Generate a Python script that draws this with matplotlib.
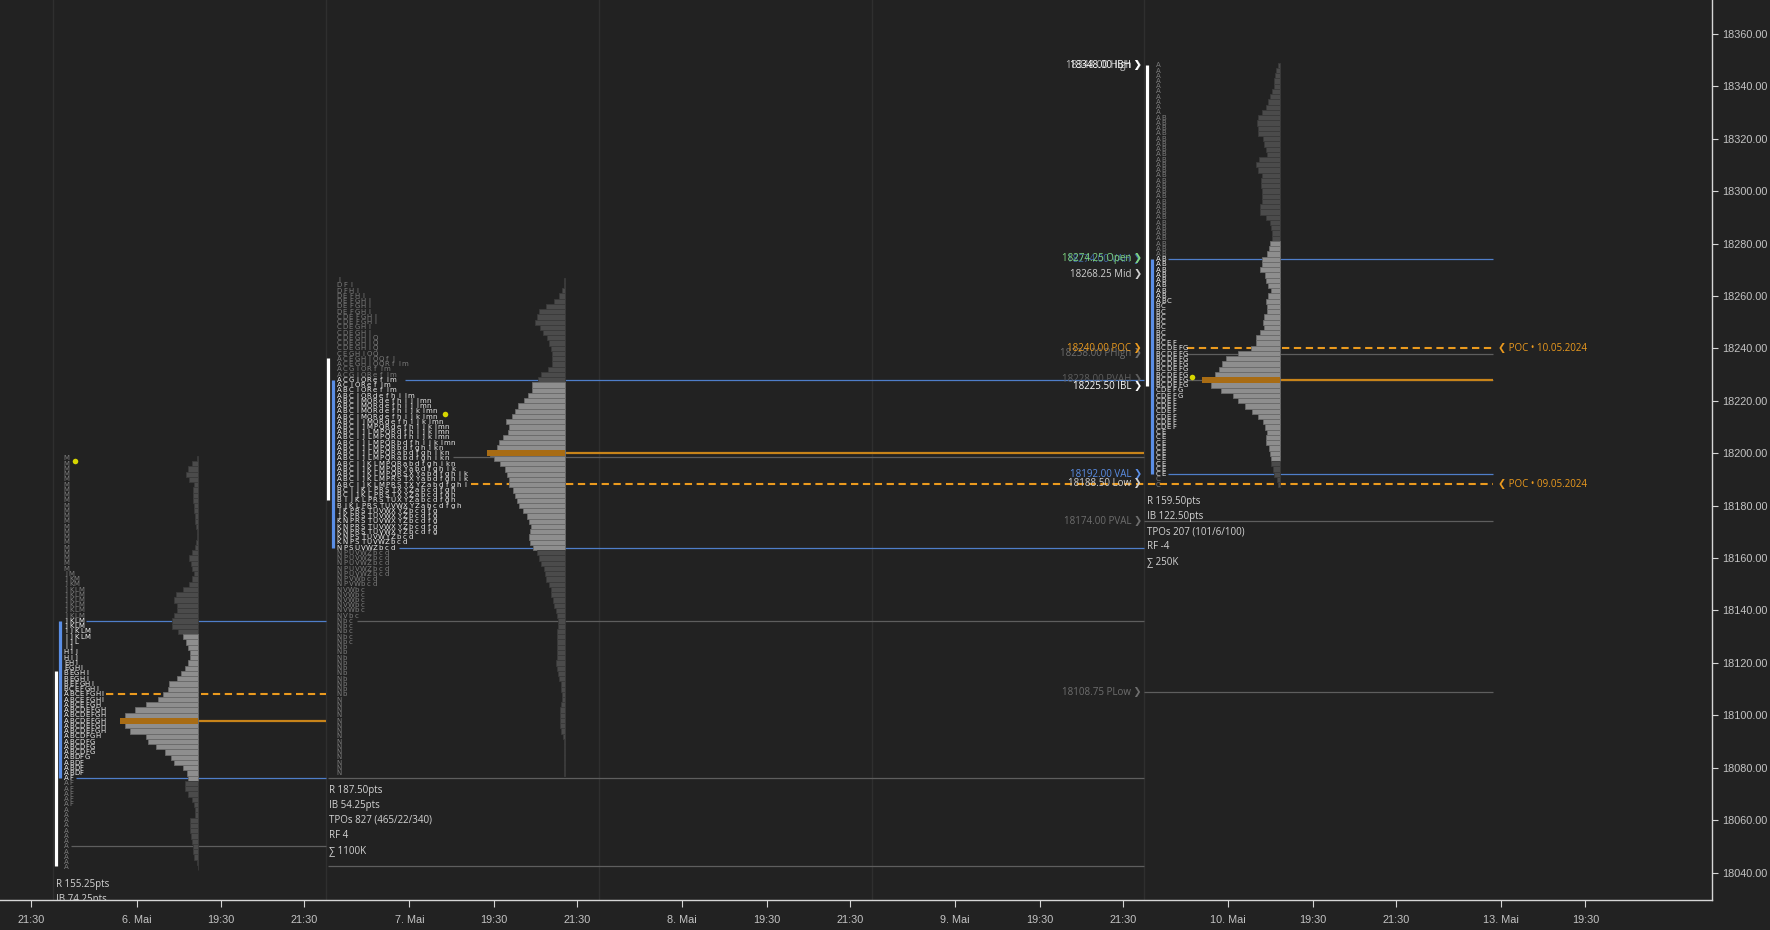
import matplotlib
matplotlib.use('Agg')
import matplotlib.pyplot as plt
import numpy as np

plt.rcParams['font.family'] = ['Open Sans', 'DejaVu Sans']

BG = '#222222'
TXT = '#d4d4d4'
BLUE_LINE = '#4f7ec9'
BLUE_BAR = '#5a8ee6'
GRAY_LINE = '#5e5e5e'
ORANGE = '#c8841a'
ORANGE_DASH = '#eb9a1e'
POC_BAR = '#a86c14'
HIST_DARK = '#4b4b4b'
HIST_LIGHT = '#8e8e8e'
LET_BRIGHT = '#ececec'
LET_DIM = '#7c7c7c'

# ---------------- data ----------------
ROW = 2.0  # price per TPO row

# session 0 : 6. Mai
S0_HIGH = 18198
S0_TPO = [("M", 22), ("J M", 1), ("J K M", 2), ("J K L M", 8), ("I J K L M", 2),
          ("I J L", 1), ("I J", 1), ("H I J", 2), ("E H I", 1), ("E G H I", 1),
          ("B E G H I", 2), ("B E F G H I", 1), ("B C E F G H I", 1),
          ("A B C E F G H I", 2), ("A B C E F G H", 1), ("A B C D E F G H", 5),
          ("A B C D F G H", 1), ("A B C D F G", 3), ("A B D F G", 1), ("A B D F", 3),
          ("A F", 6), ("A", 12)]
S0_VOL = [3, 20, 30, 38, 28, 13, 17, 15, 17, 13, 13, 11, 9, 7, 4, 4, 7, 11, 19, 28,
          23, 19, 13, 20, 29, 45, 67, 72, 65, 65, 73, 80, 80, 61,
          47, 37, 30, 24, 25, 31, 39, 52, 65, 87, 92, 107, 120, 157, 191, 219,
          225, 220, 205, 157, 152, 127, 100, 81, 72, 45, 35, 31,
          39, 39, 31, 19, 13, 11, 11, 25, 26, 24, 22, 19, 17, 15, 13, 5, 2]
S0_VA = (18076, 18136)
S0_HIST_VA = (18076, 18130)
S0_IB = (18042.5, 18116.75)
S0_DOT = 18197
S0_STATS = ["R 155.25pts", "IB 74.25pts"]

# session 1 : 7. Mai
S1_HIGH = 18266
S1_TPO = [("I", 1), ("D F I", 1), ("D F H I", 1), ("D E F H I", 1), ("D E F G H I", 3),
          ("C D E F G H I", 2), ("C D E G H I", 2), ("C D E G H I Q", 3),
          ("C E G H I O Q", 1), ("A C E G H I O Q f l", 1), ("A C E G H I O Q R f l m", 1),
          ("A C G I O R f l m", 1), ("A C G I O R e f l m", 2), ("A C I O R e f l m", 1),
          ("A B C I O R e f l m", 1), ("A B C I O R d e f h i l m", 1),
          ("A B C I M O R d e f h i j l m n", 2), ("A B C I M O R d e f h i j k l m n", 2),
          ("A B C I J M O R d e f h i j k l m n", 1),
          ("A B C I J M P Q R d e f h i j k l m n", 1),
          ("A B C I J L M P Q R d f h i j k l m n", 2),
          ("A B C I J L M P Q R b d f h i j k l m n", 1),
          ("A B C I J L M P Q R b d f g h i k n", 1),
          ("A B C I J L M P Q R a b d f g h i k n", 2),
          ("A B C I J K L M P Q R a b d f g h i k n", 1),
          ("A B C I J K L M P Q R Y a b d f g h i k", 1),
          ("A B C I J K L M P Q R S X Y a b d f g h i k", 1),
          ("A B C I J K L M P R S T X Y a b d f g h i k", 1),
          ("A B C I J K L M P R S T X Y Z a b d f g h l", 1),
          ("B C I J K L P R S T X Y Z a b c d f g h", 2),
          ("B I J K L P R S T U X Y Z a b c d f g h", 1),
          ("B J K L P R S T U V W X Y Z a b c d f g h", 1),
          ("J K P R S T U V W X Y Z b c d f g", 2),
          ("K N P R S T U V W X Y Z b c d f g", 3),
          ("K N P S T U V W Y Z b c d", 1), ("K N P S T U V W Z b c d", 1),
          ("N P S U V W Z b c d", 1), ("N P U V W Z b c d", 5), ("N P V W b c d", 2),
          ("N V W b c", 5), ("N V b c", 1), ("N b c", 5), ("N b", 10), ("N", 15)]
S1_VOL = [2, 2, 8, 19, 32, 58, 79, 83, 89, 75, 65, 55, 47, 42, 40, 40, 40, 50, 71, 80,
          99, 99, 111, 123, 141, 151, 159, 177, 168, 172, 187, 197, 205, 225, 213, 195,
          179, 173, 167, 167, 157, 149, 143, 137, 127, 113, 107, 103, 105, 107, 105, 97,
          84, 79, 71, 63, 59, 57, 47, 41, 41, 35, 32, 28, 23, 21, 21, 23, 25, 23, 23, 23,
          25, 27, 25, 21, 17, 13, 11, 9, 9, 13, 15, 15, 15, 15, 13, 7, 3,
          2, 2, 2, 2, 2, 2]
S1_VA = (18164, 18228)
S1_HIST_VA = (18164, 18226)
S1_IB = (18182.0, 18236.25)
S1_DOT = 18215
S1_STATS = ["R 187.50pts", "IB 54.25pts", "TPOs 827 (465/22/340)", "RF 4", "\u2211 1100K"]

# session 4 : 10. Mai
S4_HIGH = 18348
S4_TPO = [("A", 10), ("A B", 35), ("A B C", 1), ("B C", 7), ("B C E F", 1),
          ("B C D E F G", 8), ("C D E F G", 2), ("C D E F", 6), ("C E", 9), ("C", 2)]
S4_VOL = [6, 10, 14, 16, 18, 24, 28, 34, 40, 54, 66, 68, 66, 66, 50, 48, 40, 38, 63, 70,
          66, 52, 56, 56, 54, 54, 54, 58, 58, 40, 30, 26, 22, 22,
          28, 32, 38, 52, 52, 60, 44, 40, 34, 26, 34, 40, 38, 38, 46, 50, 46, 58, 70,
          72, 86, 123, 161, 171, 180, 193, 223, 204, 174, 139, 123, 102, 84, 66, 50, 43,
          38, 42, 40, 33, 29, 25, 25, 20, 18, 9, 5]
S4_VA = (18192, 18274)
S4_HIST_VA = (18198, 18280)
S4_IB = (18225.5, 18348.0)
S4_DOT = 18229
S4_STATS = ["R 159.50pts", "IB 122.50pts", "TPOs 207 (101/6/100)", "RF -4", "\u2211 250K"]

# reference levels: (price, start, end, kind)  start/end on session axis
LEVELS = [
    (18136, 0.121, 1.0, 'va'), (18076, 0.084, 1.0, 'va'),
    (18098, 0.532, 1.0, 'poc'), (18108, 0.194, 1.0, 'npoc'), (18050, 0.066, 1.0, 'ref'),
    (18136, 1.114, 4.0, 'ref'), (18076, 1.008, 4.0, 'ref'), (18042.5, 1.008, 4.0, 'ref'),
    (18198.5, 1.466, 4.0, 'ref'), (18228, 1.29, 4.0, 'va'), (18164, 1.268, 4.0, 'va'),
    (18200, 1.876, 4.0, 'poc'), (18188.25, 1.532, 5.277, 'npoc'),
    (18238, 4.155, 5.277, 'ref'), (18228, 4.155, 5.277, 'ref'),
    (18274, 4.086, 5.277, 'va'), (18192, 4.086, 5.277, 'va'),
    (18228, 4.496, 5.277, 'poc'), (18240, 4.155, 5.277, 'npoc'),
    (18174, 4.0, 5.277, 'ref'), (18108.75, 4.0, 5.277, 'ref'),
]
NPOC_LABELS = [(18240, "\u276e POC \u2022 10.05.2024"), (18188.25, "\u276e POC \u2022 09.05.2024")]

PRICE_LABELS = [
    (18348.00, "18348.00 High", '#bdbdbd'), (18348.00, "18348.00 IBH", '#ffffff'),
    (18274.00, "18274.00 VAH", '#3f6aa8'), (18274.25, "18274.25 Open", '#7fd67f'),
    (18268.25, "18268.25 Mid", '#d0d0d0'),
    (18238.00, "18238.00 PHigh", '#6e6e6e'), (18240.00, "18240.00 POC", '#eb9a1e'),
    (18228.00, "18228.00 PVAH", '#5e5e5e'), (18225.50, "18225.50 IBL", '#ffffff'),
    (18192.00, "18192.00 VAL", '#5b8fe8'), (18188.50, "18188.50 Low", '#d0d0d0'),
    (18174.00, "18174.00 PVAL", '#6e6e6e'), (18108.75, "18108.75 PLow", '#6e6e6e'),
]

DAY_LABELS = ['6. Mai', '7. Mai', '8. Mai', '9. Mai', '10. Mai', '13. Mai']
TIME_LABELS = ['19:30', '21:30']
FRAC_DAY, FRAC_1930, FRAC_2130 = 0.306, 0.616, 0.921
Y_TICKS = np.arange(18040, 18361, 20)

# ---------------- figure ----------------
fig = plt.figure(figsize=(17.7, 9.3), dpi=100, facecolor=BG)
ax = fig.add_axes([0, 30 / 930, 1712 / 1770, 900 / 930])
ax.set_facecolor(BG)
ax.set_xlim(-0.1944, 6.080)
ax.set_ylim(18029.55, 18372.9)
for sp in ['left', 'top']:
    ax.spines[sp].set_visible(False)
for sp in ['right', 'bottom']:
    ax.spines[sp].set_color('#d6d6d6')
    ax.spines[sp].set_linewidth(1.0)

# session separators
for s in range(5):
    ax.axvline(s, color='#2f2f2f', lw=1.0, zorder=0)

HIST_W = 0.275


def expand(rle):
    out = []
    for txt, n in rle:
        out.extend([txt] * n)
    return out


def draw_profile(s, high, tpo, vol, va, hist_va, ib, let_off, pitch, hist_right, dot_x, dot, stats):
    rows = expand(tpo)
    prices = high - ROW * np.arange(len(rows))
    # letters
    for p, row in zip(prices, rows):
        inside = va[0] <= p <= va[1]
        col = LET_BRIGHT if inside else LET_DIM
        for j, L in enumerate(row.split()):
            ax.text(s + let_off + j * pitch, p, L, fontsize=5.0, color=col,
                    ha='center', va='center', family='DejaVu Sans', zorder=4)
    # histogram
    v = np.asarray(vol, dtype=float)
    hp = high - ROW * np.arange(len(v))
    w = v / v.max() * HIST_W
    ipoc = int(np.argmax(v))
    fills, edges = [], []
    for k, p in enumerate(hp):
        inside = hist_va[0] <= p <= hist_va[1]
        fills.append(HIST_LIGHT if inside else HIST_DARK)
        edges.append('#6a6a6a' if inside else '#3a3a3a')
    ax.barh(hp, w, left=hist_right - w, height=ROW, color=fills, edgecolor=edges,
            linewidth=0.6, zorder=3)
    ax.barh([hp[ipoc]], [w[ipoc] * 1.04], left=hist_right - w[ipoc] * 1.04, height=ROW * 1.15,
            color=POC_BAR, edgecolor='none', zorder=3.5)
    # IB and VA bars
    ax.vlines(s + 0.0095, ib[0], ib[1], color='white', lw=2.3, zorder=5)
    ax.vlines(s + 0.027, va[0], va[1], color=BLUE_BAR, lw=2.3, zorder=5)
    # dot
    ax.scatter([s + dot_x], [dot], s=16, color='#d6d600', zorder=6, linewidths=0)
    # stats
    low = prices[-1]
    ax.annotate("\n".join(stats), xy=(s + 0.01, low), xytext=(0, -8.5),
                textcoords='offset points', ha='left', va='top', fontsize=7,
                color=TXT, linespacing=1.5, clip_on=True, annotation_clip=False, zorder=6)


draw_profile(0, S0_HIGH, S0_TPO, S0_VOL, S0_VA, S0_HIST_VA, S0_IB, 0.048, 0.0192, 0.532,
             0.081, S0_DOT, S0_STATS)
draw_profile(1, S1_HIGH, S1_TPO, S1_VOL, S1_VA, S1_HIST_VA, S1_IB, 0.048, 0.0220, 1.876,
             0.436, S1_DOT, S1_STATS)
draw_profile(4, S4_HIGH, S4_TPO, S4_VOL, S4_VA, S4_HIST_VA, S4_IB, 0.049, 0.0205, 4.496,
             0.173, S4_DOT, S4_STATS)

# levels
for price, x0, x1, kind in LEVELS:
    if kind == 'va':
        ax.hlines(price, x0, x1, color=BLUE_LINE, lw=0.9, zorder=2)
    elif kind == 'ref':
        ax.hlines(price, x0, x1, color=GRAY_LINE, lw=0.9, zorder=2)
    elif kind == 'poc':
        ax.hlines(price, x0, x1, color=ORANGE, lw=1.6, zorder=2)
    else:
        ax.hlines(price, x0, x1, color=ORANGE_DASH, lw=1.5, linestyles=(0, (3.5, 2.2)), zorder=2)

for price, lab in NPOC_LABELS:
    ax.annotate(lab, xy=(5.277, price), xytext=(4, 0), textcoords='offset points',
                ha='left', va='center', fontsize=7, color=ORANGE_DASH)

for price, lab, col in PRICE_LABELS:
    ax.annotate(lab + " \u276f", xy=(4.0, price), xytext=(-2, 0), textcoords='offset points',
                ha='right', va='center', fontsize=7, color=col, zorder=7)

# axes ticks
ax.yaxis.tick_right()
ax.set_yticks(Y_TICKS)
ax.set_yticklabels([f"{v:.2f}" for v in Y_TICKS])
ax.tick_params(axis='y', colors='#d6d6d6', labelcolor='#c4c4c4', length=4, width=0.8,
               pad=3, labelsize=7.8)

xt, xl = [-1 + FRAC_2130], ['21:30']
for s, day in enumerate(DAY_LABELS):
    xt.append(s + FRAC_DAY); xl.append(day)
    xt.append(s + FRAC_1930); xl.append(TIME_LABELS[0])
    if s < 5:
        xt.append(s + FRAC_2130); xl.append(TIME_LABELS[1])
ax.set_xticks(xt)
ax.set_xticklabels(xl)
ax.tick_params(axis='x', colors='#d6d6d6', labelcolor='#c4c4c4', length=5, width=0.8,
               pad=6, labelsize=7.8)
for t in ax.get_xticklabels() + ax.get_yticklabels():
    t.set_family('Liberation Sans')

fig.savefig('out.png', dpi=100, facecolor=BG)
